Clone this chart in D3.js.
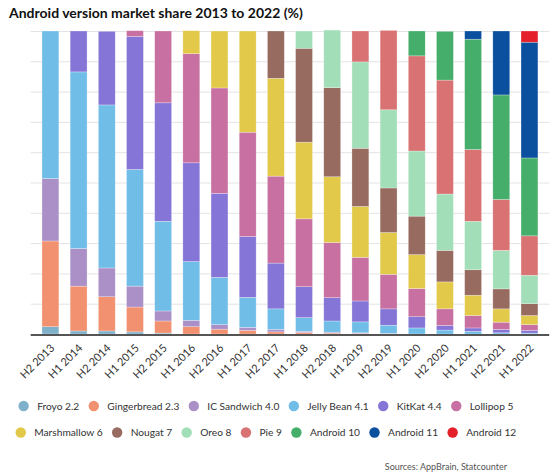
<!DOCTYPE html>
<html><head><meta charset="utf-8">
<script src="https://cdn.jsdelivr.net/npm/d3@7"></script>
<style>
html,body{margin:0;padding:0;background:#fff;}
svg{display:block;font-family:Lato,"Noto Sans",sans-serif;}
</style></head>
<body>
<svg id="chart" width="550" height="476"></svg>
<script>
const categories = ["H2 2013","H1 2014","H2 2014","H1 2015","H2 2015","H1 2016","H2 2016","H1 2017","H2 2017","H1 2018","H2 2018","H1 2019","H2 2019","H1 2020","H2 2020","H1 2021","H2 2021","H1 2022"];
const seriesNames = ["Froyo 2.2","Gingerbread 2.3","IC Sandwich 4.0","Jelly Bean 4.1","KitKat 4.4","Lollipop 5","Marshmallow 6","Nougat 7","Oreo 8","Pie 9","Android 10","Android 11","Android 12"];
const seriesColors = ["#7fb1cb","#f29170","#ab90c8","#70bee8","#8575d7","#c770a1","#e2c94a","#976b5f","#a2dfb8","#d97272","#45ae6b","#0b4f9f","#e4202a"];
const froyo       = [2.4,1.0,1.0,0.7,0.3,0,0,0,0,0,0,0,0,0,0,0,0,0];
const gingerbread = [28.3,14.8,11.3,8.2,4.0,2.4,1.6,1.2,0.7,0.5,0.3,0.2,0.1,0,0,0,0,0];
const icSandwich  = [20.6,12.4,9.5,6.9,3.3,2.1,1.5,1.0,0.8,0.4,0.3,0.2,0.1,0,0,0,0,0];
const jellyBean   = [48.7,58.3,53.8,38.5,29.6,19.4,15.6,9.9,6.8,4.5,3.7,3.6,2.7,2.0,1.3,0.9,0.4,0.3];
const kitKat      = [0,13.5,24.3,43.9,39.1,32.6,27.7,20.1,15.1,10.2,7.7,6.9,5.4,3.7,1.5,1.1,1.1,0.9];
const lollipop    = [0,0,0,1.9,23.7,36.0,34.8,34.4,28.7,22.4,18.2,14.4,11.4,9.3,5.5,4.1,2.4,1.9];
const marshmallow = [0,0,0,0,0,7.6,18.8,33.4,32.3,25.3,21.7,16.8,13.8,11.2,8.9,6.7,4.4,3.0];
const nougat      = [0,0,0,0,0,0,0,0,15.6,31.0,29.4,19.2,14.7,12.7,10.4,8.4,6.6,3.9];
const oreo        = [0,0,0,0,0,0,0,0,0,5.7,19.0,28.5,25.8,21.5,18.6,16.0,12.7,9.4];
const pie         = [0,0,0,0,0,0,0,0,0,0,0,10.2,26.2,31.4,37.6,23.7,16.8,13.0];
const android10   = [0,0,0,0,0,0,0,0,0,0,0,0,0,8.2,16.1,36.4,34.5,25.7];
const android11   = [0,0,0,0,0,0,0,0,0,0,0,0,0,0,0,2.7,21.1,38.2];
const android12   = [0,0,0,0,0,0,0,0,0,0,0,0,0,0,0,0,0,3.7];
const yTicks = [0,10,20,30,40,50,60,70,80,90,100];

const seriesValues = [froyo,gingerbread,icSandwich,jellyBean,kitKat,lollipop,marshmallow,nougat,oreo,pie,android10,android11,android12];
const keys = seriesNames;
const table = categories.map((c,i)=>{
  const row = {cat:c};
  keys.forEach((k,j)=>row[k]=seriesValues[j][i]);
  return row;
});

const svg = d3.select("#chart");
const mLeft = 30.7, mRight = 549.2, mTop = 31, mBottom = 334;
const x = d3.scaleBand().domain(categories).range([mLeft,mRight]).paddingInner(0.4).paddingOuter(0.4);
const y = d3.scaleLinear().domain([0,100]).range([mBottom,mTop]);
const color = d3.scaleOrdinal().domain(keys).range(seriesColors);

// title
svg.append("text").attr("x",9).attr("y",18).attr("font-size",14).attr("font-weight",700)
  .attr("fill","#111").text("Android version market share 2013 to 2022 (%)");

// gridlines
const yAxis = d3.axisLeft(y).tickValues(yTicks).tickSize(-(mRight-mLeft)).tickFormat("");
const gy = svg.append("g").attr("transform",`translate(${mLeft},0)`).call(yAxis);
gy.select(".domain").remove();
gy.selectAll(".tick line").attr("stroke","#e3e3e3").attr("stroke-width",1);

// bars
const stack = d3.stack().keys(keys)(table);
svg.append("g").selectAll("g").data(stack).join("g")
  .attr("fill",d=>color(d.key))
  .selectAll("rect").data(d=>d).join("rect")
  .attr("x",d=>x(d.data.cat))
  .attr("width",x.bandwidth())
  .attr("y",d=>y(d[1]))
  .attr("height",d=>Math.max(0,y(d[0])-y(d[1])))
  .attr("stroke","rgba(255,255,255,0.45)").attr("stroke-width",0.6);

// x axis
const xAxis = d3.axisBottom(x).tickSize(0).tickPadding(0);
const gx = svg.append("g").attr("transform",`translate(0,${mBottom+1})`).call(xAxis);
gx.select(".domain").attr("stroke","#555").attr("stroke-width",2).attr("d",`M${mLeft},0H${mRight}`);
gx.selectAll(".tick text")
  .attr("font-family","Lato, sans-serif").attr("font-size",11).attr("fill","#333")
  .attr("text-anchor","end").attr("x",0).attr("y",0).attr("dy","0.35em")
  .attr("transform","translate(2,11) rotate(-45)");

// legend
const rows = [seriesNames.slice(0,6), seriesNames.slice(6)];
const rowY = [406, 432.5];
const centerX = 266;
rows.forEach((names,ri)=>{
  const g = svg.append("g");
  let cx = 0;
  names.forEach((n,i)=>{
    const it = g.append("g").attr("transform",`translate(${cx},0)`);
    it.append("circle").attr("cx",5).attr("cy",0).attr("r",5.2).attr("fill",color(n));
    const t = it.append("text").attr("x",18.5).attr("y",0).attr("dy","0.35em")
      .attr("font-size",10.2).attr("fill","#333").text(n);
    const w = t.node().getComputedTextLength();
    cx += 18.5 + w + 9.5;
  });
  const total = cx - 9.5;
  g.attr("transform",`translate(${centerX-total/2},${rowY[ri]})`);
});

svg.append("text").attr("x",507).attr("y",470).attr("text-anchor","end")
  .attr("font-size",9).attr("fill","#555").text("Sources: AppBrain, Statcounter");
</script>
</body></html>
